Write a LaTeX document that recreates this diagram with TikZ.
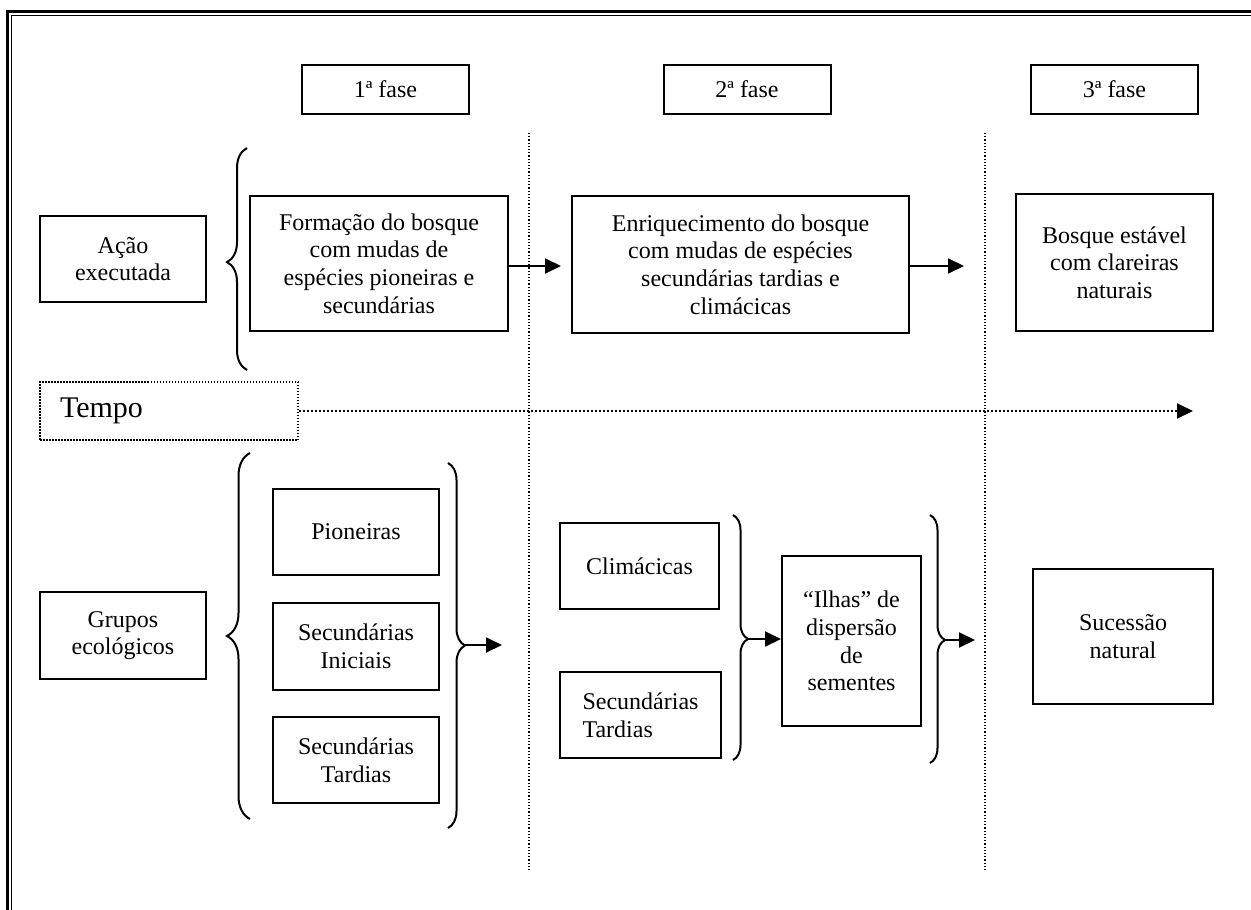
\documentclass[tikz,border=0pt]{standalone}
\usepackage{fontspec}
\setmainfont{Liberation Serif}
\usetikzlibrary{arrows.meta,decorations.pathreplacing}

\tikzset{
  caixa/.style={draw, line width=2pt, align=center, inner sep=0pt,
    font=\fontsize{24}{27.6}\selectfont},
  chave/.style={decorate, line width=2pt},
  seta/.style={line width=2pt, -{Triangle[length=16pt,width=15pt]}},
  pontos/.style={line width=1.2pt, dash pattern=on 1.2pt off 2pt},
}

\begin{document}
\begin{tikzpicture}[x=1pt, y=-1pt]
	\useasboundingbox (0,0) rectangle (1251,910);
	% Moldura
	\draw[line width=3pt] (7.5,910) -- (7.5,11.5) -- (1251,11.5);
	\draw[line width=1pt] (11.2,910) -- (11.2,15.2) -- (1251,15.2);
	% Fases
	\foreach \n/\x in {1/385.5, 2/747, 3/1114.5} {
		\node[caixa, minimum width=167pt, minimum height=49pt] (f\n) at (\x,89.5) {{\n}ª fase};
	}
	\draw[pontos] (529,133) -- (529,872);
	\draw[pontos] (985,133) -- (985,872);
	% Ação executada
	\node[caixa, minimum width=166pt, minimum height=86pt] (acao) at (123,259) {Ação\\executada};
	\draw[chave, decoration={brace, amplitude=20pt, aspect=0.486}] (247,370) -- (247,148);
	\node[caixa, minimum width=258pt, minimum height=135pt] (formacao) at (379,263.5)
		{Formação do bosque\\com mudas de\\espécies pioneiras e\\secundárias};
	\node[caixa, minimum width=337pt, minimum height=137pt] (enriq) at (740.5,264.5)
		{Enriquecimento do bosque\\com mudas de espécies\\secundárias tardias e\\climácicas};
	\node[caixa, minimum width=197pt, minimum height=137pt] (bosque) at (1114.5,262.5)
		{Bosque estável\\com clareiras\\naturais};
	\coordinate (a1) at (561,266);
	\coordinate (a2) at (964,266);
	\draw[seta] (formacao.east |- a1) -- (a1);
	\draw[seta] (enriq.east |- a2) -- (a2);
	% Tempo
	\node[caixa, line width=2pt, dash pattern=on 1.5pt off 1.5pt, align=left, text width=218pt,
		inner xsep=20pt, minimum height=58pt, font=\fontsize{30}{34}\selectfont] (tempo) at (169,411) {Tempo};
	\coordinate (fim) at (1193,411);
	\draw[line width=2pt, dash pattern=on 2pt off 2pt, -{Triangle[length=16pt,width=15pt]}] (tempo.east) -- (fim);
	% Grupos ecológicos
	\node[caixa, minimum width=166pt, minimum height=87pt] (grupos) at (123,635.5) {Grupos\\ecológicos};
	\draw[chave, decoration={brace, amplitude=23pt, aspect=0.5}] (250,819) -- (250,453);
	\node[caixa, minimum width=166pt, minimum height=86pt] (pion) at (356,532) {Pioneiras};
	\node[caixa, minimum width=166pt, minimum height=87pt] (seci) at (356,646.5) {Secundárias\\Iniciais};
	\node[caixa, minimum width=166pt, minimum height=86pt] (sect) at (356,760) {Secundárias\\Tardias};
	\draw[chave, decoration={brace, amplitude=17pt, aspect=0.5}] (448,463) -- (448,828);
	\coordinate (b3) at (465,645);
	\coordinate (b3f) at (502,645);
	\draw[seta] (b3) -- (b3f);
	\node[caixa, minimum width=159pt, minimum height=86pt] (clim) at (639.5,566) {Climácicas};
	\node[caixa, align=left, minimum width=161pt, minimum height=86pt] (sect2) at (640.5,715) {Secundárias\\Tardias};
	\draw[chave, decoration={brace, amplitude=15pt, aspect=0.506}] (733,515) -- (733,760);
	\node[caixa, minimum width=139pt, minimum height=170pt] (ilhas) at (851.5,641)
		{“Ilhas” de\\dispersão\\de\\sementes};
	\coordinate (b4) at (748,639);
	\draw[seta] (b4) -- (b4 -| ilhas.west);
	\draw[chave, decoration={brace, amplitude=15pt, aspect=0.504}] (930,515) -- (930,763);
	\coordinate (b5) at (945,640);
	\coordinate (b5f) at (975,640);
	\draw[seta] (b5) -- (b5f);
	\node[caixa, minimum width=180pt, minimum height=135pt] (sucessao) at (1123,636.5) {Sucessão\\natural};
\end{tikzpicture}
\end{document}
